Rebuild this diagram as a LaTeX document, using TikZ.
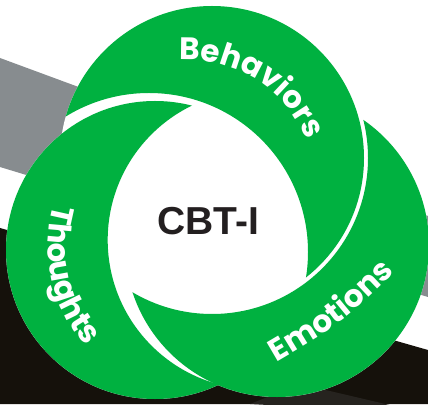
\documentclass[tikz,border=0pt]{standalone}
\usepackage{fontspec}
\newfontfamily\popf{Poppins}
\newfontfamily\arialf{Liberation Sans}
\usetikzlibrary{decorations.text}
\definecolor{cgreen}{HTML}{00B140}
\definecolor{cgray}{HTML}{878C8F}
\definecolor{cblack}{HTML}{15110B}
\definecolor{cdark}{HTML}{26231F}
\definecolor{ctext}{HTML}{231F20}
\tikzset{
  crescent/.style={fill=cgreen, even odd rule},
  labeltext/.style={decorate, decoration={text along path, text align=center,
     text={|\popf\bfseries\fontsize{31}{31}\selectfont\color{white}|#1}}}
}
\begin{document}
\begin{tikzpicture}[x=1pt,y=1pt]
\useasboundingbox (0,0) rectangle (428,404);
\fill[white] (0,0) rectangle (428,404);
% background bands
\fill[cgray] (0,346) -- (428,188) -- (428,107) -- (0,237) -- cycle;
\fill[cblack] (0,176) -- (428,54) -- (428,0) -- (0,0) -- cycle;
\fill[cdark] (250,0) -- (300,20) -- (428,-10) -- cycle;
% circle centres
\coordinate (B) at (212,246);
\coordinate (T) at (155,154);
\coordinate (E) at (277,159);
\coordinate (cT) at (149,152);
\coordinate (cE) at (257,164);
\coordinate (cB) at (212,246);
% white base of the whole figure
\fill[white] (B) circle (152pt) (T) circle (149pt) (E) circle (152pt);
% crescents: disc minus the next (enlarged) disc
\begin{scope}
  \clip (B) circle (152pt);
  \fill[crescent] (-50,-50) rectangle (500,500) (cT) circle (159pt);
\end{scope}
\begin{scope}
  \clip (T) circle (149pt);
  \fill[crescent] (-50,-50) rectangle (500,500) (cE) circle (149.3pt);
\end{scope}
\begin{scope}
  \clip (E) circle (152pt);
  \fill[crescent] (-50,-50) rectangle (500,500) (cB) circle (156pt);
\end{scope}
% labels
\path[labeltext=Behaviors] (144.2,336.3) arc[start angle=110, end angle=6, radius=128pt];
\path[labeltext=Thoughts] (83.3,255.1) arc[start angle=140, end angle=245.6, radius=151pt];
\path[labeltext=Emotions] (257.8,30.8) .. controls (341.7,79.7) .. (410.6,147.2);
\node[text=ctext, font=\arialf\bfseries\fontsize{39}{39}\selectfont, inner sep=0pt] (cbti) at (208,183) {CBT-I};
\end{tikzpicture}
\end{document}
